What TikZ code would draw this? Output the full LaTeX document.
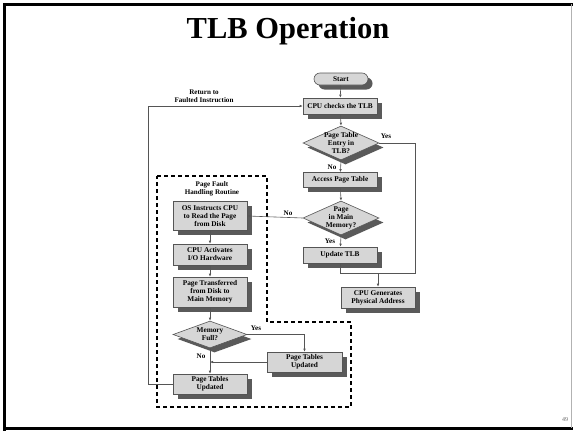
\documentclass[tikz,border=0pt]{standalone}
\usepackage{fontspec}
\setmainfont{Liberation Serif}
\usetikzlibrary{shapes.geometric,shapes.misc,shadows,arrows.meta}
\definecolor{boxfill}{HTML}{D6D6D6}
\definecolor{boxline}{HTML}{555555}
\definecolor{shade}{HTML}{5A5A5A}
\tikzset{
  shadowed/.style={drop shadow={shadow xshift=4.5pt,shadow yshift=-4.5pt,fill=shade,opacity=1}},
  procbox/.style={rectangle,draw=boxline,line width=0.6pt,fill=boxfill,shadowed,
    minimum width=74pt,inner sep=1pt,align=center,font=\fontsize{7.3}{8}\selectfont\bfseries},
  decision/.style={diamond,draw=boxline,line width=0.6pt,fill=boxfill,shadowed,
    inner sep=0pt,minimum width=76pt,minimum height=34pt},
  pill/.style={rounded rectangle,draw=boxline,line width=0.6pt,fill=boxfill,shadowed,
    minimum width=56pt,minimum height=12pt,inner sep=1pt,font=\fontsize{7.3}{8}\selectfont\bfseries},
  txt/.style={align=center,inner sep=0pt,font=\fontsize{7.3}{8}\selectfont\bfseries},
  lbl/.style={inner sep=0pt,font=\fontsize{7.1}{8}\selectfont\bfseries},
  conn/.style={draw=boxline,line width=0.6pt},
  arr/.style={conn,-{Latex[length=3pt,width=2.6pt]}},
  routine/.style={draw=black,line width=1.2pt,dash pattern=on 4pt off 3pt},
  frameline/.style={draw=black,line width=3pt}
}
\begin{document}
\begin{tikzpicture}[x=1pt,y=-1pt]
\useasboundingbox (0,0) rectangle (573,431);
% slide frame
\fill[white] (0,0) rectangle (573,431);
\draw[frameline] (4.5,431) -- (4.5,4) -- (573,4);
\draw[frameline] (3,428) -- (573,428);
\draw[draw=gray!60,line width=0.6pt] (571.5,4) -- (571.5,428);

% title and page number
\node[font=\fontsize{30.5}{36}\selectfont\bfseries,anchor=base] (title) at (288,38) {TLB Operation};
\node[font=\fontsize{6}{7}\selectfont,text=gray!80!black] (pg) at (565,420) {49};

% fault handling region
\draw[routine] (157,176) -- (267,176) -- (267,322) -- (351,322) -- (351,407) -- (157,407) -- cycle;
\node[lbl,align=center] (rt) at (212,189) {Page Fault\\Handling Routine};

% main path
\node[pill] (start) at (341,79) {Start};
\node[procbox,minimum height=16pt] (cpu) at (340,106) {CPU checks the TLB};
\node[decision] (d1) at (341,143) {};
\node[txt] (d1t) at (d1) {Page Table\\Entry in\\TLB?};
\node[procbox,minimum height=15pt] (acc) at (340,180) {Access Page Table};
\node[decision] (d2) at (341,218) {};
\node[txt] (d2t) at (d2) {Page\\in Main\\Memory?};
\node[procbox,minimum height=16pt] (upd) at (340,255) {Update TLB};
\node[procbox,minimum height=21pt] (gen) at (378,297.5) {CPU Generates\\Physical Address};

% fault handling steps
\node[procbox,minimum height=29pt] (os) at (210,216) {OS Instructs CPU\\to Read the Page\\from Disk};
\node[procbox,minimum height=21pt] (act) at (210,254.5) {CPU Activates\\I/O Hardware};
\node[procbox,minimum height=30pt] (xfer) at (210,292) {Page Transferred\\from Disk to\\Main Memory};
\node[decision,minimum width=74pt,minimum height=27pt] (d3) at (210,334.5) {};
\node[txt] (d3t) at (d3) {Memory\\Full?};
\node[procbox,minimum width=75pt,minimum height=20pt] (ptr) at (304.5,362) {Page Tables\\Updated};
\node[procbox,minimum height=20pt] (ptl) at (210,384) {Page Tables\\Updated};

% connectors on the main path
\draw[arr] (start) -- (cpu);
\draw[arr] (cpu) -- (d1.north);
\draw[arr] (d1.south) -- (acc);
\node[lbl] (no1) at (332,167) {No};
\coordinate (jr) at (415,273);
\coordinate (jl) at (upd.south |- jr);
\draw[conn] (d1.east) -| (jr) -- (jl) -- (upd.south);
\node[lbl] (yes1) at (386,136) {Yes};
\draw[arr] (gen.north |- jr) -- (gen.north);
\draw[arr] (acc) -- (d2.north);
\draw[arr] (d2.south) -- (upd);
\node[lbl] (yes2) at (330,241) {Yes};
\draw[arr] (d2.west) -- (os.east);
\node[lbl] (no2) at (288,213) {No};

% connectors in the fault handler
\draw[arr] (os) -- (act);
\draw[arr] (act) -- (xfer);
\draw[arr] (xfer) -- (d3.north);
\draw[arr] (d3.east) -| (ptr.north);
\node[lbl] (yes3) at (256,328) {Yes};
\draw[arr] (d3.south) -- (ptl.north);
\node[lbl] (no3) at (201,356) {No};
\draw[arr] (ptr.west) -- (d3.south |- ptr.west);

% return to the faulted instruction
\coordinate (rl) at (148,384);
\draw[arr] (ptl.west) -- (rl) |- (cpu.west);
\node[lbl,align=center] (ret) at (204,96) {Return to\\Faulted Instruction};
\end{tikzpicture}
\end{document}
